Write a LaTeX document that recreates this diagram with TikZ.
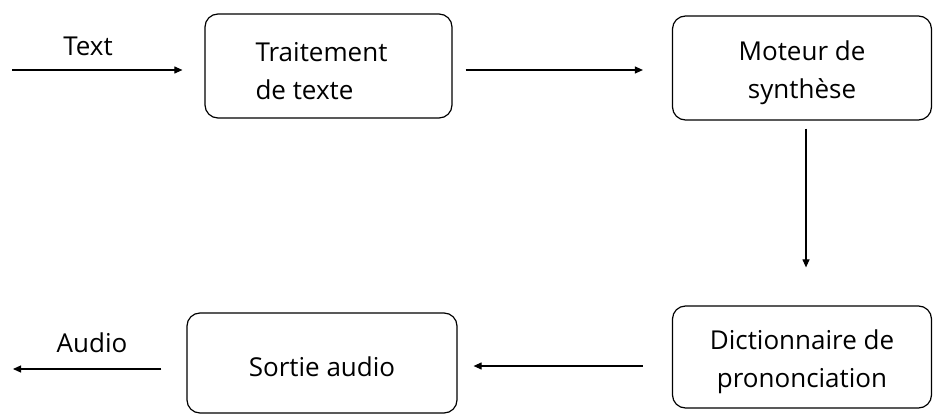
\documentclass[tikz,border=0pt]{standalone}
\usepackage{fontspec}
\setmainfont{Open Sans}
\usetikzlibrary{arrows.meta}
\newcommand{\tup}[1]{\rule{0pt}{#1pt}}
\newcommand{\tdn}{\rule[-8pt]{0pt}{8pt}}
\begin{document}
\begin{tikzpicture}[x=1pt,y=-1pt,
  box/.style={draw, line width=1.2pt, rounded corners=13pt, font=\fontsize{26}{38}\selectfont, inner sep=0pt},
  lbl/.style={font=\fontsize{26}{38}\selectfont, inner sep=0pt, anchor=base},
  arr/.style={line width=1.1pt, -{Triangle[length=8pt,width=7pt]}}]
\useasboundingbox (0,0) rectangle (935,415);
\node[box, minimum width=247pt, minimum height=104pt, align=left] (b1) at (328.5,66) {\tup{37}Traitement\rule{14pt}{0pt}\\de texte\tdn};
\node[box, minimum width=259pt, minimum height=104pt, align=center] (b2) at (802,68) {\tup{30}Moteur de\\synthèse\tdn};
\node[box, minimum width=259pt, minimum height=102pt, align=center] (b3) at (802,357) {\tup{31}Dictionnaire de\\prononciation\tdn};
\node[box, minimum width=270pt, minimum height=100pt, align=center] (b4) at (322,363) {\tup{35}Sortie audio\tdn};
\coordinate (tin) at (12,70);
\coordinate (aout) at (13,369);
\node[lbl] (ltext) at (88,55) {Text};
\node[lbl] (laudio) at (92,352) {Audio};
\draw[arr, shorten >=22pt] (tin) -- (b1.west |- tin);
\draw[arr, shorten <=13pt, shorten >=29pt] (b1.east |- 0,70) -- (b2.west |- 0,70);
\draw[arr, shorten <=8pt, shorten >=38pt] ([xshift=4pt]b2.south) -- ([xshift=4pt]b3.north);
\draw[arr, shorten <=29pt, shorten >=16pt] (b3.west |- 0,366) -- (b4.east |- 0,366);
\draw[arr, shorten <=25pt] (b4.west |- aout) -- (aout);
\end{tikzpicture}
\end{document}
